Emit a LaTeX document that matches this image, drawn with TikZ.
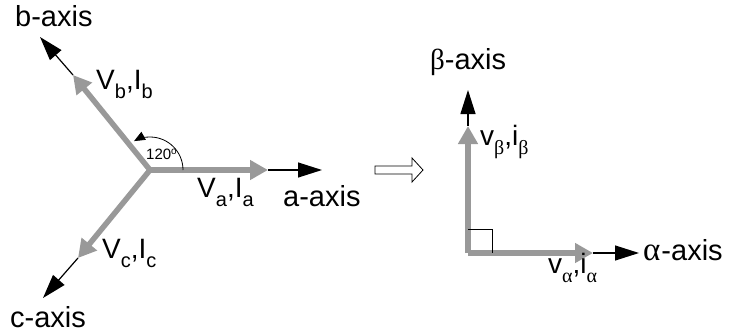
\documentclass[tikz,border=0pt]{standalone}
\usepackage{fontspec}
\setmainfont{Liberation Sans}
\newfontfamily\greekfont{Liberation Serif}
\usetikzlibrary{arrows.meta}
\definecolor{vecgray}{RGB}{153,153,153}
\newcommand{\lowsub}[1]{\raisebox{-9pt}{\fontsize{20}{22}\selectfont #1}}
\newcommand{\bigalpha}{{\fontsize{33}{34}\selectfont\greekfont α}}
\begin{document}
\begin{tikzpicture}[x=1pt,y=-1pt,
  vec/.style={draw=vecgray, line width=5.5pt, -{Triangle[length=18pt,width=19pt]}},
  axisln/.style={draw=black, line width=1.2pt, -{Triangle[length=24pt,width=15pt]}},
  axlabel/.style={font=\fontsize{29}{32}\selectfont, inner sep=0pt, anchor=base west},
  veclabel/.style={font=\fontsize{28}{30}\selectfont, inner sep=0pt, anchor=base west},
  thinln/.style={draw=black, line width=0.8pt}
  ]
\useasboundingbox (0,0) rectangle (734,332);
% left (abc) frame
\coordinate (O1) at (150,170);
\coordinate (ga) at (268,170);
\coordinate (ba) at (322,170);
\coordinate (gb) at (73,75);
\coordinate (bb) at (40,37);
\coordinate (gc) at (78,258);
\coordinate (bc) at (43,298);
\draw[axisln] (ga) -- (ba);
\draw[axisln] (gb) -- (bb);
\draw[axisln] (gc) -- (bc);
\draw[vec] (O1) -- (ga);
\draw[vec] (O1) -- (gb);
\draw[vec] (O1) -- (gc);
\coordinate (arcstart) at (183,170);
\draw[thinln, -{Triangle[length=11pt,width=9pt]}] (arcstart) arc[start angle=0, end angle=119, radius=33pt];
\node[font=\fontsize{15}{16}\selectfont, inner sep=0pt, anchor=base west] (ang) at (146,159) {120\raisebox{5pt}{\fontsize{10}{10}\selectfont o}};
\node[axlabel] (lb) at (15,27) {b-axis};
\node[axlabel] (la) at (283,206) {a-axis};
\node[axlabel] (lc) at (10,327) {c-axis};
\node[veclabel] (vb) at (96,89) {V\lowsub{b},I\lowsub{b}};
\node[veclabel] (va) at (197,197) {V\lowsub{a},I\lowsub{a}};
\node[veclabel] (vc) at (102,258) {V\lowsub{c},I\lowsub{c}};
% transformation arrow
\draw[thinln, fill=white] (375,166) -- (412,166) -- (412,158) -- (423,170) -- (412,182) -- (412,174) -- (375,174) -- cycle;
% right (alpha beta) frame
\coordinate (O2) at (468,253);
\coordinate (gal) at (593,253);
\coordinate (bal) at (639,253);
\coordinate (gbe) at (468,126);
\coordinate (bbe) at (468,90);
\draw[axisln] (gal) -- (bal);
\draw[axisln] (gbe) -- (bbe);
\draw[vec] (O2) -- (gal);
\draw[vec] (O2) -- (gbe);
\draw[thinln] (O2) ++(0,-24) -| ++(24,24);
\node[axlabel] (lbeta) at (430,69) {{\greekfont β}-axis};
\node[axlabel] (lalpha) at (643,260) {\bigalpha\kern1pt-axis};
\node[veclabel] (vbeta) at (480,145) {v\lowsub{\greekfont β},i\lowsub{\greekfont β}};
\node[veclabel] (valpha) at (548,273) {v\lowsub{\greekfont α},i\lowsub{\greekfont α}};
\end{tikzpicture}
\end{document}
